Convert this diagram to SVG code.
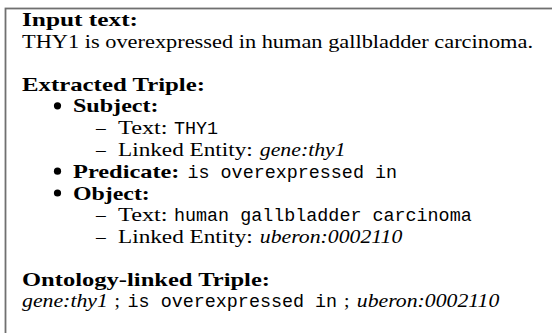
<svg xmlns="http://www.w3.org/2000/svg" width="552" height="333" viewBox="0 0 552 333">
<style>
text{font-family:"Liberation Serif","DejaVu Serif",serif;font-size:19.5px;fill:#000}
.b{font-weight:bold}
.i{font-style:italic}
.m{font-family:"Liberation Mono","DejaVu Sans Mono",monospace;font-size:18px}
.bu{fill:#000}
</style>
<rect width="552" height="333" fill="#fff"/>
<rect x="5.5" y="8.5" width="620" height="420" fill="none" stroke="#707070" stroke-width="1.8"/>
<g id="input">
<text class="b" x="22" y="26" textLength="116" lengthAdjust="spacingAndGlyphs">Input text:</text>
<text x="22" y="47.8" textLength="511" lengthAdjust="spacingAndGlyphs">THY1 is overexpressed in human gallbladder carcinoma.</text>
</g>
<g id="extracted">
<text class="b" x="22" y="90.5" textLength="183" lengthAdjust="spacingAndGlyphs">Extracted Triple:</text>
<circle class="bu" cx="57.5" cy="105.8" r="3.6"/>
<text class="b" x="73" y="112.3" textLength="85.5" lengthAdjust="spacingAndGlyphs">Subject:</text>
<text x="96" y="134.1">–</text>
<text x="118" y="134.1" textLength="49.6" lengthAdjust="spacingAndGlyphs">Text:</text>
<text class="m" x="174" y="134.1" textLength="44.1" lengthAdjust="spacingAndGlyphs">THY1</text>
<text x="96" y="155.9">–</text>
<text x="118" y="155.9" textLength="134.8" lengthAdjust="spacingAndGlyphs">Linked Entity:</text>
<text class="i" x="259.8" y="155.9" textLength="85.9" lengthAdjust="spacingAndGlyphs">gene:thy1</text>
<circle class="bu" cx="57.5" cy="171.2" r="3.6"/>
<text class="b" x="73" y="177.7" textLength="106.5" lengthAdjust="spacingAndGlyphs">Predicate:</text>
<text class="m" x="187.5" y="177.7" textLength="209.5" lengthAdjust="spacingAndGlyphs">is overexpressed in</text>
<circle class="bu" cx="57.5" cy="193" r="3.6"/>
<text class="b" x="73" y="199.5" textLength="76.8" lengthAdjust="spacingAndGlyphs">Object:</text>
<text x="96" y="221.3">–</text>
<text x="118" y="221.3" textLength="49.6" lengthAdjust="spacingAndGlyphs">Text:</text>
<text class="m" x="174" y="221.3" textLength="297.7" lengthAdjust="spacingAndGlyphs">human gallbladder carcinoma</text>
<text x="96" y="243.1">–</text>
<text x="118" y="243.1" textLength="134.8" lengthAdjust="spacingAndGlyphs">Linked Entity:</text>
<text class="i" x="259.8" y="243.1" textLength="142.5" lengthAdjust="spacingAndGlyphs">uberon:0002110</text>
</g>
<g id="ontology">
<text class="b" x="22" y="285.5" textLength="248" lengthAdjust="spacingAndGlyphs">Ontology-linked Triple:</text>
<text class="i" x="22" y="307.3" textLength="85.9" lengthAdjust="spacingAndGlyphs">gene:thy1</text>
<text x="114.5" y="307.3">;</text>
<text class="m" x="127.6" y="307.3" textLength="209.5" lengthAdjust="spacingAndGlyphs">is overexpressed in</text>
<text x="344" y="307.3">;</text>
<text class="i" x="356.8" y="307.3" textLength="142.5" lengthAdjust="spacingAndGlyphs">uberon:0002110</text>
</g>
</svg>
